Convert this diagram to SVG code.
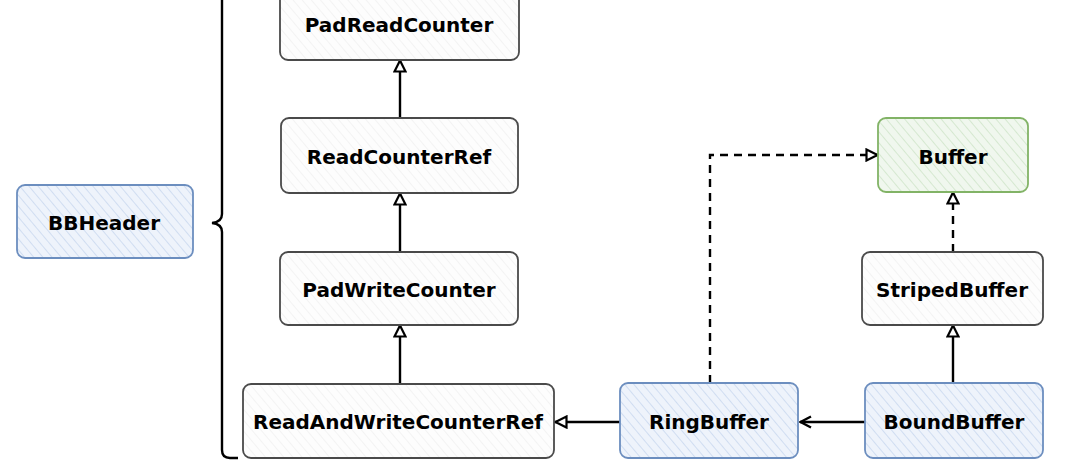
<svg xmlns="http://www.w3.org/2000/svg" width="1080" height="461" viewBox="0 0 1080 461">
  <defs>
    <pattern id="hBlue" patternUnits="userSpaceOnUse" width="7" height="7" patternTransform="rotate(-40)">
      <rect width="7" height="7" fill="#eef3fb"/>
      <line x1="0" y1="0" x2="0" y2="7" stroke="#c9d8ef" stroke-width="1.6"/>
    </pattern>
    <pattern id="hGreen" patternUnits="userSpaceOnUse" width="7" height="7" patternTransform="rotate(-40)">
      <rect width="7" height="7" fill="#f0f7ee"/>
      <line x1="0" y1="0" x2="0" y2="7" stroke="#cfe5c9" stroke-width="1.6"/>
    </pattern>
    <pattern id="hGray" patternUnits="userSpaceOnUse" width="7" height="7" patternTransform="rotate(-40)">
      <rect width="7" height="7" fill="#fdfdfd"/>
      <line x1="0" y1="0" x2="0" y2="7" stroke="#f0f0f0" stroke-width="1.4"/>
    </pattern>
    <marker id="tri" viewBox="0 0 14 14" refX="13" refY="7" markerWidth="14" markerHeight="14" markerUnits="userSpaceOnUse" orient="auto">
      <path d="M1.5,1.5 L12.5,7 L1.5,12.5 Z" fill="#fff" stroke="#000" stroke-width="2.2"/>
    </marker>
    <marker id="open" viewBox="0 0 14 14" refX="13" refY="7" markerWidth="14" markerHeight="14" markerUnits="userSpaceOnUse" orient="auto">
      <path d="M2,1.5 L12.5,7 L2,12.5" fill="none" stroke="#000" stroke-width="2.4"/>
    </marker>
  </defs>
  <style>
    .lbl { font-family: "DejaVu Sans", "Liberation Sans", sans-serif; font-weight: bold; font-size: 20px; fill: #000; text-anchor: middle; dominant-baseline: central; }
    .gray { fill: url(#hGray); stroke: #4a4a4a; stroke-width: 1.8; }
    .blue { fill: url(#hBlue); stroke: #6c8ebf; stroke-width: 1.8; }
    .green { fill: url(#hGreen); stroke: #82b366; stroke-width: 1.8; }
    .edge { fill: none; stroke: #000; stroke-width: 2.4; }
    .dash { stroke-dasharray: 8 6; }
  </style>
  <rect width="1080" height="461" fill="#fff"/>

  <g id="connectors">
    <path class="edge" d="M222,0 L222,214 Q222,222 212,223 Q222,224 222,232 L222,450 Q222,458 230,458 L238,458"/>
    <line class="edge" x1="400" y1="118" x2="400" y2="60" marker-end="url(#tri)"/>
    <line class="edge" x1="400" y1="252" x2="400" y2="193" marker-end="url(#tri)"/>
    <line class="edge" x1="400" y1="384" x2="400" y2="325" marker-end="url(#tri)"/>
    <line class="edge" x1="620" y1="422" x2="555" y2="422" marker-end="url(#tri)"/>
    <line class="edge" x1="865" y1="422" x2="800" y2="422" marker-end="url(#open)"/>
    <line class="edge" x1="953" y1="383" x2="953" y2="325" marker-end="url(#tri)"/>
    <line class="edge dash" x1="953" y1="252" x2="953" y2="192" marker-end="url(#tri)"/>
    <path class="edge dash" d="M710,383 L710,155 L878,155" marker-end="url(#tri)"/>
  </g>

  <g id="node-padreadcounter">
    <rect class="gray" x="280" y="-8" width="239" height="68" rx="8"/>
    <text class="lbl" x="399" y="25">PadReadCounter</text>
  </g>
  <g id="node-readcounterref">
    <rect class="gray" x="281" y="118" width="237" height="75" rx="8"/>
    <text class="lbl" x="399" y="157">ReadCounterRef</text>
  </g>
  <g id="node-padwritecounter">
    <rect class="gray" x="280" y="252" width="238" height="73" rx="8"/>
    <text class="lbl" x="399" y="290">PadWriteCounter</text>
  </g>
  <g id="node-readandwritecounterref">
    <rect class="gray" x="243" y="384" width="311" height="74" rx="8"/>
    <text class="lbl" x="398" y="422">ReadAndWriteCounterRef</text>
  </g>
  <g id="node-bbheader">
    <rect class="blue" x="17" y="185" width="176" height="73" rx="8"/>
    <text class="lbl" x="104" y="223">BBHeader</text>
  </g>
  <g id="node-buffer">
    <rect class="green" x="878" y="118" width="150" height="74" rx="8"/>
    <text class="lbl" x="953" y="157">Buffer</text>
  </g>
  <g id="node-stripedbuffer">
    <rect class="gray" x="862" y="252" width="181" height="73" rx="8"/>
    <text class="lbl" x="952" y="290">StripedBuffer</text>
  </g>
  <g id="node-ringbuffer">
    <rect class="blue" x="620" y="383" width="178" height="75" rx="8"/>
    <text class="lbl" x="709" y="422">RingBuffer</text>
  </g>
  <g id="node-boundbuffer">
    <rect class="blue" x="865" y="383" width="178" height="75" rx="8"/>
    <text class="lbl" x="954" y="422">BoundBuffer</text>
  </g>
</svg>
